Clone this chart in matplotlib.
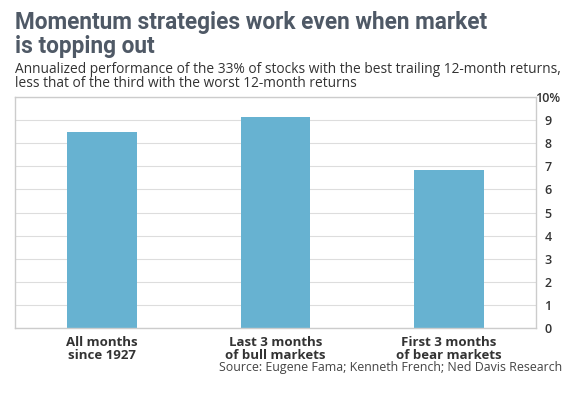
import matplotlib.pyplot as plt
import numpy as np

# Chart data
categories = ["All months\nsince 1927", "Last 3 months\nof bull markets", "First 3 months\nof bear markets"]
values = [8.48, 9.13, 6.84]
y_ticks = [0, 1, 2, 3, 4, 5, 6, 7, 8, 9, 10]
y_tick_labels = ["0", "1", "2", "3", "4", "5", "6", "7", "8", "9", "10%"]

title = "Momentum strategies work even when market\nis topping out"
subtitle = ("Annualized performance of the 33% of stocks with the best trailing 12-month returns,\n"
            "less that of the third with the worst 12-month returns")
source = "Source: Eugene Fama; Kenneth French; Ned Davis Research"

fig = plt.figure(figsize=(5.69, 3.98), dpi=100)
ax = fig.add_axes([15 / 569, 1 - 328 / 398, (536 - 15) / 569, (328 - 97) / 398])

x = np.arange(len(categories))
ax.bar(x, values, width=0.4, color="#67b2d1", zorder=2)

ax.set_xlim(-0.5, 2.5)
ax.set_ylim(0, 10)
ax.set_yticks(y_ticks)
ax.set_yticklabels(y_tick_labels, fontfamily="Open Sans", fontweight="semibold", fontsize=9,
                   color="#333333", ha="center")
ax.yaxis.tick_right()
ax.tick_params(axis="y", length=0, pad=8.6)
ax.set_xticks(x)
ax.set_xticklabels(categories, fontfamily="Open Sans", fontweight="bold", fontsize=9.5, color="#333333",
                   linespacing=1.0)
ax.tick_params(axis="x", length=0, pad=5.5)
ax.grid(axis="y", color="#dddddd", linewidth=0.8, zorder=0)
for s in ax.spines.values():
    s.set_color("#cccccc")
    s.set_linewidth(1)

fig.text(15 / 569, 1 - 11 / 398, title, fontfamily="Roboto", fontweight="bold", fontsize=16.3,
         color="#4f5966", va="top", ha="left", linespacing=1.05)
fig.text(15 / 569, 1 - 62 / 398, subtitle, fontfamily="Open Sans", fontsize=9.9,
         color="#333333", va="top", ha="left", linespacing=0.92)
fig.text(562 / 569, 1 - 367 / 398, source, fontfamily="Open Sans", fontsize=8.9,
         color="#444444", va="center", ha="right")

fig.savefig("out.png", dpi=100)
